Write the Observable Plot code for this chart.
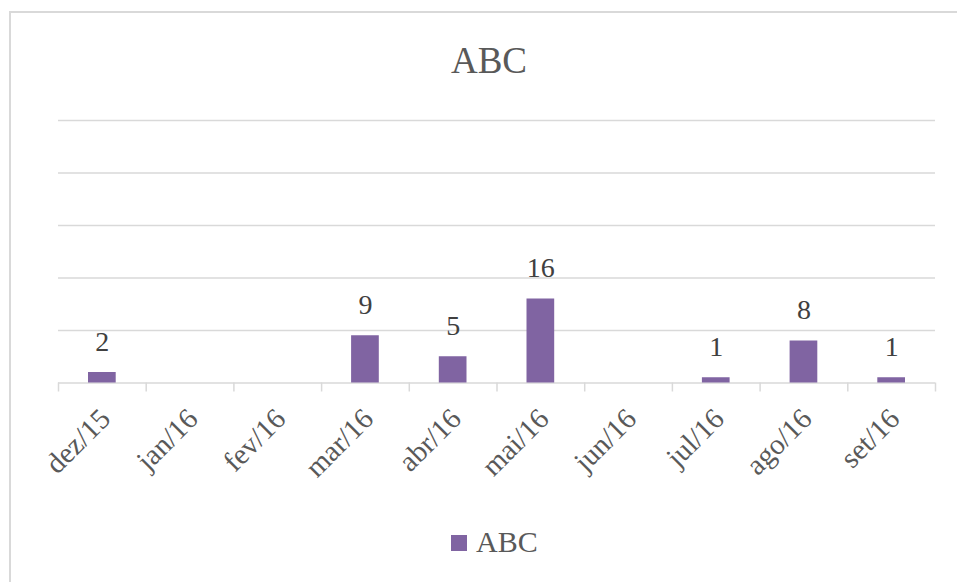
<!DOCTYPE html>
<html>
<head>
<meta charset="utf-8">
<script src="https://cdn.jsdelivr.net/npm/d3@7"></script>
<script src="https://cdn.jsdelivr.net/npm/@observablehq/plot@0.6"></script>
<style>
  html, body { margin: 0; padding: 0; background: #fff; }
  body { width: 957px; height: 582px; overflow: hidden; position: relative;
         font-family: "Liberation Serif", "Times New Roman", serif; color: #595959; }
  #frame { position: absolute; left: 9px; top: 11px; width: 1000px; height: 620px;
           border-top: 2px solid #D9D9D9; border-left: 2px solid #D9D9D9; }
  #title { position: absolute; left: 0; width: 978px; top: 42px; text-align: center;
           font-size: 37px; line-height: 1; }
  #chart { position: absolute; left: 0; top: 100px; }
  #legend { position: absolute; left: 451px; top: 527px; font-size: 30px; line-height: 1;
            display: flex; align-items: center; }
  #legend .sw { width: 16px; height: 16px; background: #8064A2; margin-right: 9px; margin-top: 2px; }
</style>
</head>
<body>
<div id="frame"></div>
<div id="title">ABC</div>
<div id="chart"></div>
<div id="legend"><div class="sw"></div><span>ABC</span></div>
<script>
const months = ["dez/15","jan/16","fev/16","mar/16","abr/16","mai/16","jun/16","jul/16","ago/16","set/16"];
const values = [2, 0, 0, 9, 5, 16, 0, 1, 8, 1];
const yTicks = [0, 10, 20, 30, 40, 50];
const barColor = "#8064A2";

const data = months.map((m, i) => ({month: m, value: values[i]}));

const W = 957, H = 420, mL = 58, mR = 22, mT = 20, mB = 137.5;
const step = (W - mL - mR) / months.length;
const font = "'Liberation Serif', 'Times New Roman', serif";

const chart = Plot.plot({
  width: W, height: H,
  marginLeft: mL, marginRight: mR, marginTop: mT, marginBottom: mB,
  x: {domain: months, padding: 0, round: false, axis: null, label: null},
  y: {domain: [0, 50], axis: null, label: null},
  style: {fontFamily: font, color: "#595959", background: "transparent"},
  marks: [
    Plot.ruleY(yTicks, {stroke: "#D9D9D9", strokeWidth: 1.5, strokeOpacity: 1}),
    Plot.barY(data, {x: "month", y: "value", fill: barColor, insetLeft: 30, insetRight: 30}),
    Plot.text(data.filter(d => d.value > 0), {
      x: "month", y: "value", text: d => String(d.value),
      lineAnchor: "bottom", dy: -22, fontSize: 28, fontFamily: font, fill: "#404040"
    }),
    Plot.axisX({tickSize: 9, tickFormat: () => "", label: null, dx: -step / 2, stroke: "#D9D9D9", strokeWidth: 1.5, strokeOpacity: 1}),
    Plot.axisX({ticks: [months[months.length - 1]], tickSize: 9, tickFormat: () => "", label: null, dx: step / 2, stroke: "#D9D9D9", strokeWidth: 1.5, strokeOpacity: 1}),
    Plot.axisX({tickSize: 0, tickRotate: -45, tickPadding: 31, fontSize: 29, fontFamily: font, label: null, dx: 3, fill: "#595959"})
  ]
});
document.getElementById("chart").appendChild(chart);
</script>
</body>
</html>
